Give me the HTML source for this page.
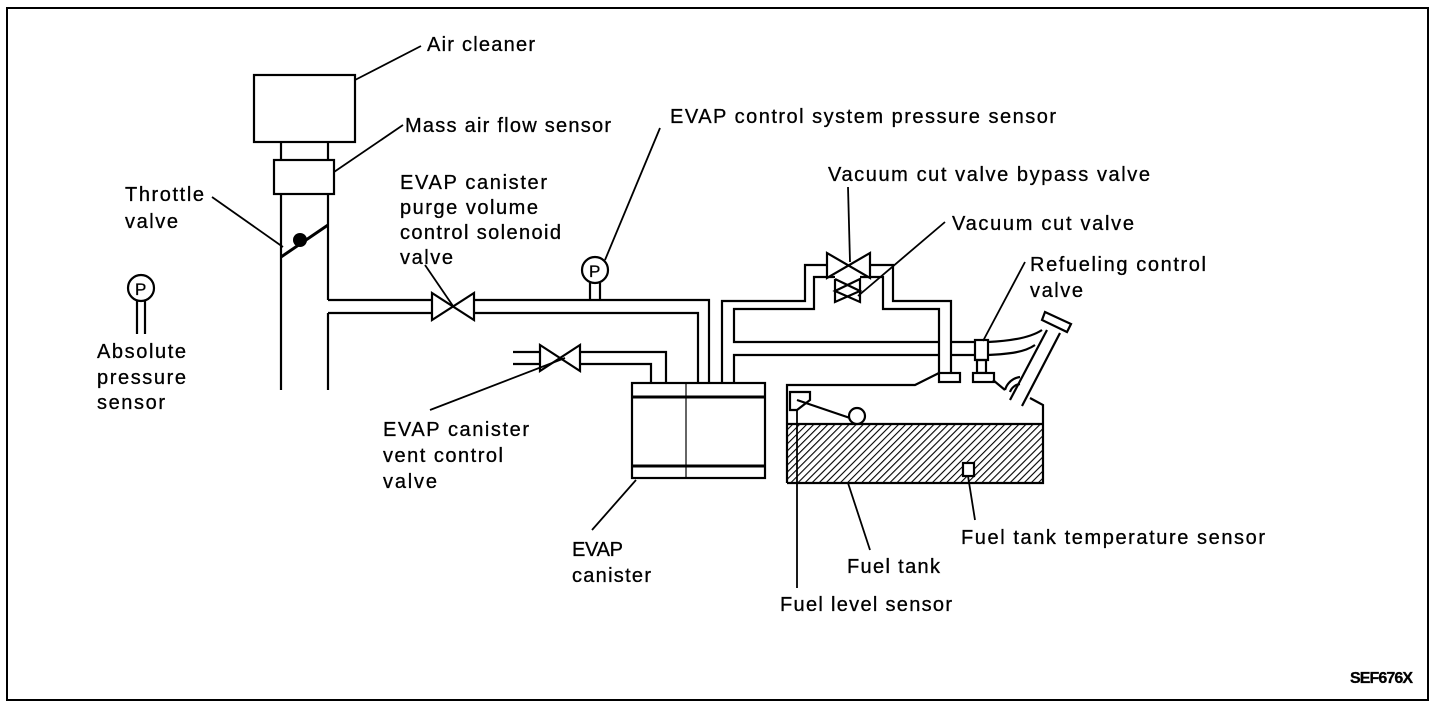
<!DOCTYPE html>
<html><head><meta charset="utf-8"><style>
html,body{margin:0;padding:0;background:#fff;}
svg{display:block;}
text{font-family:"Liberation Sans",Arial,sans-serif;font-size:20px;fill:#000;stroke:#000;stroke-width:0.3;}
</style></head><body>
<svg width="1440" height="708" viewBox="0 0 1440 708" xmlns="http://www.w3.org/2000/svg">
<defs>
<pattern id="h" width="5" height="5" patternUnits="userSpaceOnUse" patternTransform="rotate(45)">
<rect width="5" height="5" fill="#fff"/><line x1="0" y1="0" x2="0" y2="5" stroke="#000" stroke-width="2.2"/>
</pattern>
</defs>
<rect x="7" y="8" width="1421" height="692" fill="none" stroke="#000" stroke-width="2"/>
<g fill="none" stroke="#000" stroke-width="2.2">
<rect x="254" y="75" width="101" height="67"/>
<line x1="281" y1="142" x2="281" y2="160"/><line x1="328" y1="142" x2="328" y2="160"/>
<rect x="274" y="160" width="60" height="34"/>
<line x1="281" y1="194" x2="281" y2="390"/>
<line x1="328" y1="194" x2="328" y2="300"/>
<line x1="328" y1="313" x2="328" y2="390"/>
<line x1="281" y1="257" x2="328" y2="225" stroke-width="3"/>
<polyline points="328,300 432,300"/><polyline points="328,313 432,313"/>
<polyline points="474,300 709,300 709,383"/>
<polyline points="474,313 698,313 698,383"/>
<polygon points="432,293 432,320 474,293 474,320"/>
<line x1="590" y1="283" x2="590" y2="300"/><line x1="600" y1="283" x2="600" y2="300"/>
<circle cx="595" cy="270" r="13" fill="#fff"/>
<polyline points="513,352 540,352"/><polyline points="513,364 540,364"/>
<polyline points="580,352 666,352 666,383"/>
<polyline points="580,364 651,364 651,383"/>
<polygon points="540,345 540,371 580,345 580,371"/>
<rect x="632" y="383" width="133" height="95"/>
<line x1="632" y1="397" x2="765" y2="397" stroke-width="3"/>
<line x1="632" y1="466" x2="765" y2="466" stroke-width="3"/>
<line x1="686" y1="383" x2="686" y2="478" stroke-width="1.2"/>
<polyline points="722,383 722,301 805,301 805,265 827,265"/>
<polyline points="870,265 893,265 893,301 951,301 951,373"/>
<polyline points="734,383 734,355 939,355"/>
<polyline points="939,373 939,309 883,309 883,277 860,277"/>
<polyline points="835,277 814,277 814,309 734,309 734,342 939,342"/>
<polygon points="827,253 827,278 870,253 870,278" fill="#fff"/>
<polygon points="860,279 860,302 835,291 860,279" fill="#fff"/>
<polyline points="835,279 835,302 860,291 835,279"/>
<line x1="951" y1="342" x2="975" y2="342"/><line x1="951" y1="355" x2="975" y2="355"/>
<path d="M988,342 C1010,341 1030,338 1042,330"/>
<path d="M988,355 C1010,354 1025,352 1035,345"/>
<rect x="975" y="340" width="13" height="20" fill="#fff"/>
<rect x="977" y="360" width="9" height="13"/>
<rect x="939" y="373" width="21" height="9" fill="#fff"/>
<rect x="973" y="373" width="21" height="9" fill="#fff"/>
<rect x="788" y="424" width="255" height="59" fill="url(#h)" stroke="none"/>
<polyline points="787,483 787,385 915,385 939,373"/>
<polyline points="993,380 1005,390"/>
<polyline points="1030,398 1043,405 1043,483 787,483"/>
<line x1="787" y1="424" x2="1043" y2="424"/>
<path d="M1005,390 A18,18 0 0 1 1020,377"/>
<path d="M1010,392 A12,12 0 0 1 1020,384"/>
<line x1="1010" y1="400" x2="1047" y2="330"/>
<line x1="1022" y1="406" x2="1060" y2="333"/>
<polygon points="1042,320 1045,312 1071,324 1067,332" fill="#fff"/>
<polygon points="790,392 810,392 810,400 797,410 790,410" fill="#fff"/>
<line x1="797" y1="400" x2="850" y2="418"/>
<circle cx="857" cy="416" r="8" fill="#fff"/>
<rect x="963" y="463" width="11" height="13" fill="#fff"/>
<line x1="137" y1="301" x2="137" y2="334"/><line x1="145" y1="301" x2="145" y2="334"/>
<circle cx="141" cy="288" r="13"/>
<g stroke-width="1.8">
<line x1="355" y1="80" x2="421" y2="46"/>
<line x1="334" y1="172" x2="403" y2="125"/>
<line x1="212" y1="197" x2="283" y2="247"/>
<line x1="425" y1="265" x2="453" y2="306"/>
<line x1="660" y1="128" x2="605" y2="260"/>
<line x1="848" y1="187" x2="850" y2="262"/>
<line x1="945" y1="222" x2="858" y2="296"/>
<line x1="1025" y1="262" x2="983" y2="341"/>
<line x1="430" y1="410" x2="565" y2="358"/>
<line x1="592" y1="530" x2="636" y2="480"/>
<line x1="870" y1="550" x2="848" y2="483"/>
<line x1="975" y1="520" x2="968" y2="476"/>
<line x1="797" y1="410" x2="797" y2="588"/>
</g>
</g>
<circle cx="300" cy="240" r="7" fill="#000"/>
<text x="589" y="277" style="font-size:17px">P</text>
<text x="135" y="295" style="font-size:17px">P</text>
<text x="427" y="51" textLength="108">Air cleaner</text>
<text x="405" y="132" textLength="206">Mass air flow sensor</text>
<text x="125" y="201" textLength="79">Throttle</text>
<text x="125" y="228" textLength="53">valve</text>
<text x="400" y="189" textLength="147">EVAP canister</text>
<text x="400" y="214" textLength="138">purge volume</text>
<text x="400" y="239" textLength="161">control solenoid</text>
<text x="400" y="264" textLength="53">valve</text>
<text x="670" y="123" textLength="386">EVAP control system pressure sensor</text>
<text x="828" y="181" textLength="322">Vacuum cut valve bypass valve</text>
<text x="952" y="230" textLength="182">Vacuum cut valve</text>
<text x="1030" y="271" textLength="176">Refueling control</text>
<text x="1030" y="297" textLength="53">valve</text>
<text x="97" y="358" textLength="89">Absolute</text>
<text x="97" y="384" textLength="89">pressure</text>
<text x="97" y="409" textLength="68">sensor</text>
<text x="383" y="436" textLength="146">EVAP canister</text>
<text x="383" y="462" textLength="120">vent control</text>
<text x="383" y="488" textLength="54">valve</text>
<text x="572" y="556" textLength="51">EVAP</text>
<text x="572" y="582" textLength="79">canister</text>
<text x="847" y="573" textLength="93">Fuel tank</text>
<text x="961" y="544" textLength="304">Fuel tank temperature sensor</text>
<text x="780" y="611" textLength="172">Fuel level sensor</text>
<text x="1350" y="683" textLength="63" style="font-weight:bold;font-size:16px">SEF676X</text>
</svg>
</body></html>
